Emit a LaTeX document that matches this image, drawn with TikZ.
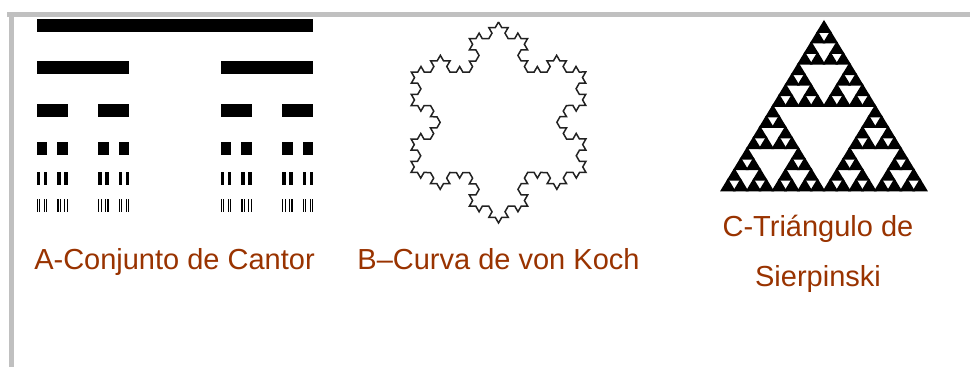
\documentclass[tikz,border=0pt]{standalone}
\usepackage{fontspec}
\setmainfont{Liberation Sans}
\usetikzlibrary{decorations.fractals}

\definecolor{captioncol}{RGB}{153,51,0}
\definecolor{framecol}{RGB}{192,192,192}
\definecolor{kochcol}{RGB}{34,34,34}

\tikzset{
  framebar/.style={fill=framecol},
  cantorbar/.style={fill=black},
  sierpcell/.style={fill=black, draw=black, line width=1.6pt, line join=miter},
  kochline/.style={draw=kochcol, line width=1.5pt, line join=miter,
                   decoration=Koch snowflake},
  caption/.style={text=captioncol, inner sep=0pt,
                  font=\fontsize{29}{50}\selectfont, align=center}
}

% top edge (image rows) of each Cantor level
\def\cantortop#1{\ifcase#1 19\or 61\or 104\or 142\or 172\or 199\fi}

% Cantor set: bar at x #1, width #2, level #3; recurses down to level 5
\newcommand\cantorset[3]{%
  \begingroup
  \edef\ctop{\cantortop{#3}}%
  \pgfmathsetmacro\cy{367-\ctop}%
  \fill[cantorbar] (#1,\cy) rectangle ++(#2,-13.5);
  \ifnum#3<5
    \pgfmathsetmacro\cw{#2/3}%
    \pgfmathsetmacro\cx{#1+2*#2/3}%
    \pgfmathtruncatemacro\cl{#3+1}%
    \edef\cnext{\noexpand\cantorset{#1}{\cw}{\cl}\noexpand\cantorset{\cx}{\cw}{\cl}}%
    \cnext
  \fi
  \endgroup}

% Sierpinski triangle: base-left corner (#1,#2), width #3, height #4, depth #5
\newcommand\sierpset[5]{%
  \ifnum#5=0
    \filldraw[sierpcell] (#1,#2) -- ++(#3,0) -- ++(-#3/2,#4) -- cycle;
  \else
    \begingroup
    \pgfmathsetmacro\sw{#3/2}%
    \pgfmathsetmacro\sh{#4/2}%
    \pgfmathtruncatemacro\sd{#5-1}%
    \pgfmathsetmacro\sxa{#1+\sw}%
    \pgfmathsetmacro\sxb{#1+\sw/2}%
    \pgfmathsetmacro\syb{#2+\sh}%
    \edef\snext{\noexpand\sierpset{#1}{#2}{\sw}{\sh}{\sd}%
      \noexpand\sierpset{\sxa}{#2}{\sw}{\sh}{\sd}%
      \noexpand\sierpset{\sxb}{\syb}{\sw}{\sh}{\sd}}%
    \snext
    \endgroup
  \fi}

\begin{document}
\begin{tikzpicture}[x=1pt, y=1pt]
  \useasboundingbox (0,0) rectangle (970,367);
  \fill[white] (0,0) rectangle (970,367);

  % grey frame along the top and the left
  \fill[framebar] (7,355) rectangle (970,350);
  \fill[framebar] (9,355) rectangle (14,0);

  % A: Cantor set
  \cantorset{37}{276}{0}

  % B: von Koch snowflake
  \coordinate (kTop) at (498.5,345);
  \coordinate (kRight) at (586,194.5);
  \coordinate (kLeft) at (411,194.5);
  \draw[kochline] decorate{ decorate{ decorate{
      (kTop) -- (kRight) -- (kLeft) -- cycle }}};

  % C: Sierpinski triangle
  \sierpset{721.5}{176.5}{205}{169}{4}

  % captions
  \node[caption, anchor=base] (capA) at (174.5,97) {A-Conjunto de Cantor};
  \node[caption, anchor=base] (capB) at (498.5,97) {B–Curva de von Koch};
  \node[caption, anchor=base] (capC) at (818,80) {C-Triángulo de\\Sierpinski};
\end{tikzpicture}
\end{document}
